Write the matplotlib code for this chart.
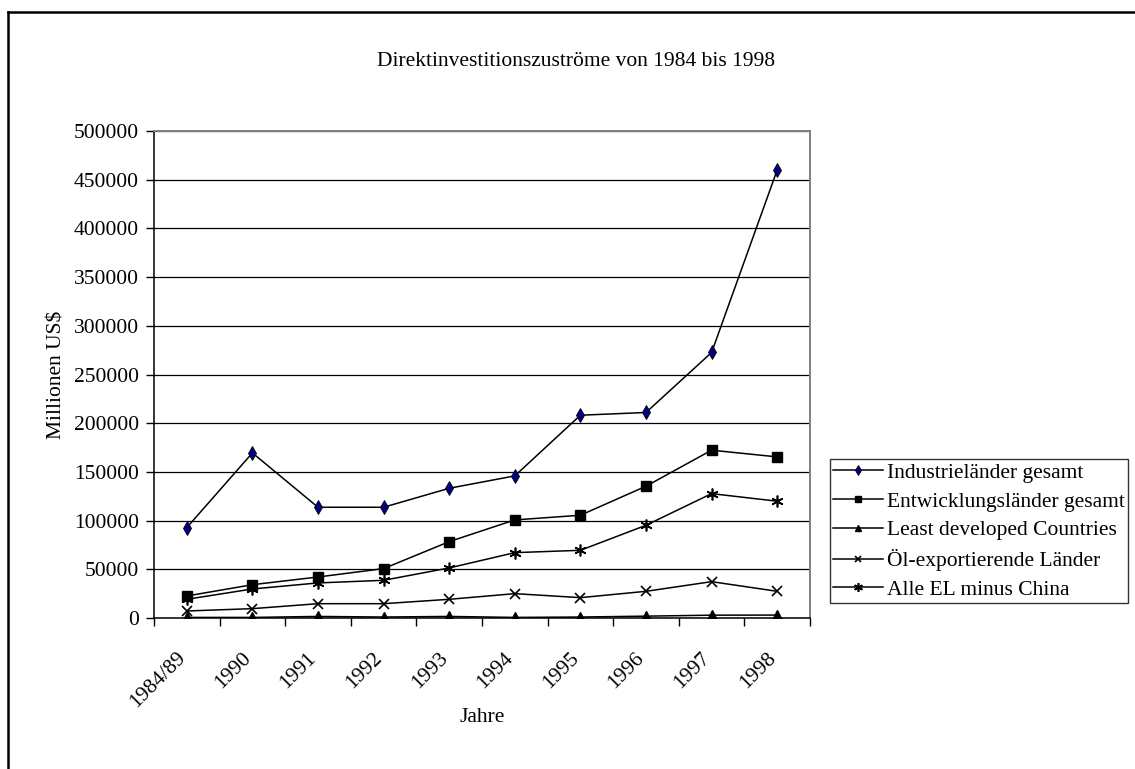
import matplotlib.pyplot as plt
from matplotlib.lines import Line2D
from matplotlib.transforms import ScaledTranslation
import numpy as np

plt.rcParams['font.family'] = ['Liberation Serif', 'DejaVu Serif']

years = ['1984/89', '1990', '1991', '1992', '1993', '1994', '1995', '1996', '1997', '1998']

industrie = [92800, 169500, 113700, 113700, 133200, 145900, 208200, 211000, 272600, 460000]
entwicklung = [22600, 34200, 42100, 50700, 78400, 100700, 105500, 135300, 172300, 165400]
least_dev = [600, 600, 1600, 1000, 1600, 600, 1000, 1900, 2900, 3000]
oel = [7200, 9600, 14700, 14700, 19200, 25000, 20900, 27400, 37300, 27400]
alle_el = [19200, 29800, 36000, 38700, 51400, 67100, 69500, 95200, 127700, 119900]

labels = ['Industrieländer gesamt', 'Entwicklungsländer gesamt', 'Least developed Countries',
          'Öl-exportierende Länder', 'Alle EL minus China']

fs = 15.5

fig = plt.figure(figsize=(11.35, 7.69), dpi=100)
ax = fig.add_axes([154/1135, 1-618/769, 656/1135, 487/769])

x = np.arange(len(years))
lw = 1.1
ax.plot(x, industrie, color='black', lw=lw, marker='d', markersize=7,
        markerfacecolor='#000080', markeredgecolor='black', markeredgewidth=0.6, label=labels[0])
ax.plot(x, entwicklung, color='black', lw=lw, marker='s', markersize=6.5, label=labels[1])
ax.plot(x, least_dev, color='black', lw=lw, marker='^', markersize=6.5, label=labels[2])
ax.plot(x, oel, color='black', lw=lw, marker='x', markersize=6.5, markeredgewidth=1.2, label=labels[3])
ax.plot(x, alle_el, color='black', lw=lw, marker=(6, 2, 0), markersize=8.5, markeredgewidth=1.2, label=labels[4])

ax.set_xlim(-0.5, len(years) - 0.5)
ax.set_ylim(0, 500000)
ax.set_yticks(np.arange(0, 500001, 50000))
ax.yaxis.grid(True, color='black', lw=0.9)
ax.set_axisbelow(True)

ax.set_xticks(np.arange(-0.5, len(years)), labels=[''] * (len(years) + 1))
ax.set_xticks(x, minor=True)
ax.set_xticklabels(years, minor=True, rotation=45, ha='right', rotation_mode='anchor')
ax.tick_params(axis='x', which='minor', length=0, pad=14, labelsize=fs)
ax.tick_params(axis='x', which='major', length=6, width=1, direction='out')
ax.tick_params(axis='y', length=6, width=1, pad=5, labelsize=fs)
shift = ScaledTranslation(-0.11, -0.11, fig.dpi_scale_trans)
for lab in ax.get_xticklabels(minor=True):
    lab.set_transform(lab.get_transform() + shift)

for s in ['top', 'right']:
    ax.spines[s].set_color('#808080')
    ax.spines[s].set_linewidth(1.4)
for s in ['left', 'bottom']:
    ax.spines[s].set_color('black')
    ax.spines[s].set_linewidth(1.1)

ax.set_ylabel('Millionen US\\$', fontsize=fs)
ax.yaxis.set_label_coords(-0.134, 0.5)
ax.set_xlabel('Jahre', fontsize=fs)
ax.xaxis.set_label_coords(0.5, -0.185)

fig.text(576/1135, 1-61/769, 'Direktinvestitionszuströme von 1984 bis 1998',
         ha='center', va='center', fontsize=fs)

leg = ax.legend(loc='center left', bbox_to_anchor=(1.030, 0.178), fontsize=fs,
                frameon=True, fancybox=False, edgecolor='black', handlelength=2.3,
                handletextpad=0.2, borderpad=0.16, labelspacing=0.405, borderaxespad=0,
                markerscale=0.75)
leg.get_frame().set_linewidth(1.0)

# outer border (top and left only visible)
fig.add_artist(Line2D([8/1135, 1.0], [1-12/769, 1-12/769], color='black', lw=1.8,
                      transform=fig.transFigure))
fig.add_artist(Line2D([8/1135, 8/1135], [0.0, 1-12/769], color='black', lw=1.8,
                      transform=fig.transFigure))

fig.savefig('out.png', dpi=100)
